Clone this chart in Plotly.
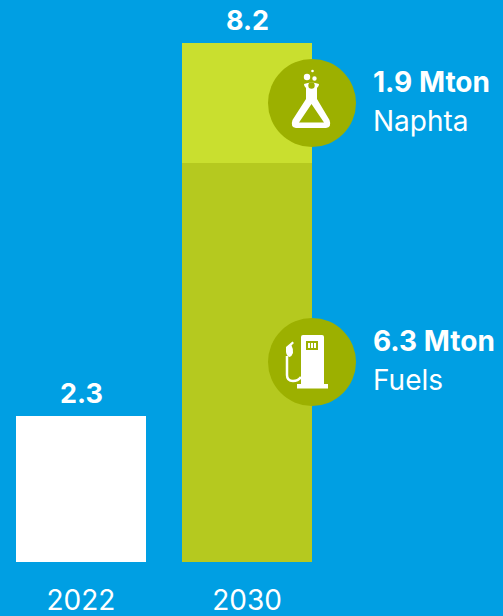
import plotly.graph_objects as go

categories = ["2022", "2030"]
base_2022 = [2.3, None]
fuels = [None, 6.3]
naphta = [None, 1.9]
totals = [2.3, 8.2]
total_labels = ["2.3", "8.2"]

W, H, B = 503, 616, 54
PLOT_H = H - B
BG = "#009FE3"
FONT = "Inter"
CIRCLE = "#9CB000"


def px(x):
    return x / W


def py(y):
    return 1 - y / PLOT_H


def path(cmds):
    out = []
    for c in cmds:
        if isinstance(c, str):
            out.append(c)
        else:
            out.append(f"{px(c[0]):.5f},{py(c[1]):.5f}")
    return " ".join(out)


fig = go.Figure()
fig.add_bar(x=categories, y=base_2022, marker_color="#FFFFFF", marker_line_width=0, hoverinfo="skip")
fig.add_bar(x=categories, y=fuels, marker_color="#B5C91F", marker_line_width=0, hoverinfo="skip")
fig.add_bar(x=categories, y=naphta, marker_color="#C9DF2F", marker_line_width=0, hoverinfo="skip")

fig.update_layout(
    barmode="stack", bargap=36 / 166, showlegend=False,
    width=W, height=H, autosize=False,
    margin=dict(l=0, r=0, t=0, b=B, autoexpand=False),
    paper_bgcolor=BG, plot_bgcolor=BG,
    font=dict(family=FONT, color="white"),
    xaxis=dict(type="category", automargin=False, range=[-81 / 166, (W - 81) / 166], showgrid=False,
               zeroline=False, showline=False, ticks="", tickfont=dict(size=28, family=FONT, color="white"),
               ticklabelstandoff=19),
    yaxis=dict(range=[0, PLOT_H / 63.3], visible=True, showgrid=False, zeroline=False, showline=False,
               showticklabels=False, ticks=""),
)

for i, (t, lab) in enumerate(zip(totals, total_labels)):
    fig.add_annotation(xref="x", yref="y", x=i, y=t, text=f"<b>{lab}</b>", showarrow=False, yanchor="bottom",
                       yshift=4, font=dict(size=27, family=FONT, color="white"))

labels = [("1.9 Mton", "Naphta", 82, 121), ("6.3 Mton", "Fuels", 341, 380)]
for big, small, y1, y2 in labels:
    fig.add_annotation(xref="paper", yref="paper", x=px(371), y=py(y1), xanchor="left", yanchor="middle",
                       text=f"<b>{big}</b>", showarrow=False, font=dict(size=28, family=FONT, color="white"))
    fig.add_annotation(xref="paper", yref="paper", x=px(371), y=py(y2), xanchor="left", yanchor="middle",
                       text=small, showarrow=False, font=dict(size=28, family=FONT, color="white"))


def dot(cx, cy, r, color="white"):
    return dict(type="circle", xref="paper", yref="paper", x0=px(cx - r), x1=px(cx + r), y0=py(cy + r),
                y1=py(cy - r), fillcolor=color, line_width=0)


def poly(cmds, color="white", rule="evenodd"):
    return dict(type="path", xref="paper", yref="paper", path=path(cmds), fillcolor=color, line_width=0,
                fillrule=rule)


shapes = [dot(312, 103, 44, CIRCLE), dot(312, 362, 44, CIRCLE)]

# flask icon
shapes.append(poly([
    "M", (304, 84), "Q", (311.5, 81), "", (319, 84), "Q", (319, 87), "", (317, 88),
    "L", (317, 99), "L", (329.5, 120), "Q", (332, 127), "", (326, 128),
    "L", (296, 128), "Q", (290, 127), "", (292.5, 120), "L", (306, 99), "L", (306, 88), "Q", (304, 87), "", (304, 84), "Z",
    "M", (311.5, 104), "L", (299, 122.5), "L", (324, 122.5), "Z",
]))
shapes.append(dot(311.5, 85.5, 3.2, CIRCLE))
shapes += [dot(307, 77, 3.2), dot(314.5, 78.5, 2.2), dot(312.5, 71, 1.3)]

# fuel pump icon
shapes.append(poly([
    "M", (303, 335), "L", (322, 335), "Q", (324, 335), "", (324, 337), "L", (324, 384), "L", (328, 384),
    "L", (328, 388.5), "L", (297, 388.5), "L", (297, 384), "L", (301, 384), "L", (301, 337),
    "Q", (301, 335), "", (303, 335), "Z",
]))
shapes.append(dict(type="rect", xref="paper", yref="paper", x0=px(306), x1=px(318), y0=py(350), y1=py(341),
                   fillcolor=CIRCLE, line_width=0))
for x in (308, 311, 314):
    shapes.append(dict(type="rect", xref="paper", yref="paper", x0=px(x), x1=px(x + 2), y0=py(348), y1=py(343),
                       fillcolor="white", line_width=0))
shapes.append(poly([
    "M", (292.5, 341.5), "L", (294, 343), "L", (291.5, 345.5), "Q", (293.5, 349), "", (293, 353),
    "Q", (292, 356), "", (289.5, 357), "Q", (286.5, 356), "", (286, 352), "L", (286, 347), "Z",
]))
shapes.append(dict(type="path", xref="paper", yref="paper",
                   path=path(["M", (287, 356), "L", (287, 375), "Q", (287, 381), "", (293, 381),
                              "Q", (298, 381), "", (301, 377)]),
                   line=dict(color="white", width=2.5), fillcolor="rgba(0,0,0,0)"))

fig.update_layout(shapes=shapes)
fig.write_html("out.html", config=dict(displayModeBar=False),
               post_script="document.body.style.margin='0';document.body.style.overflow='hidden';")
